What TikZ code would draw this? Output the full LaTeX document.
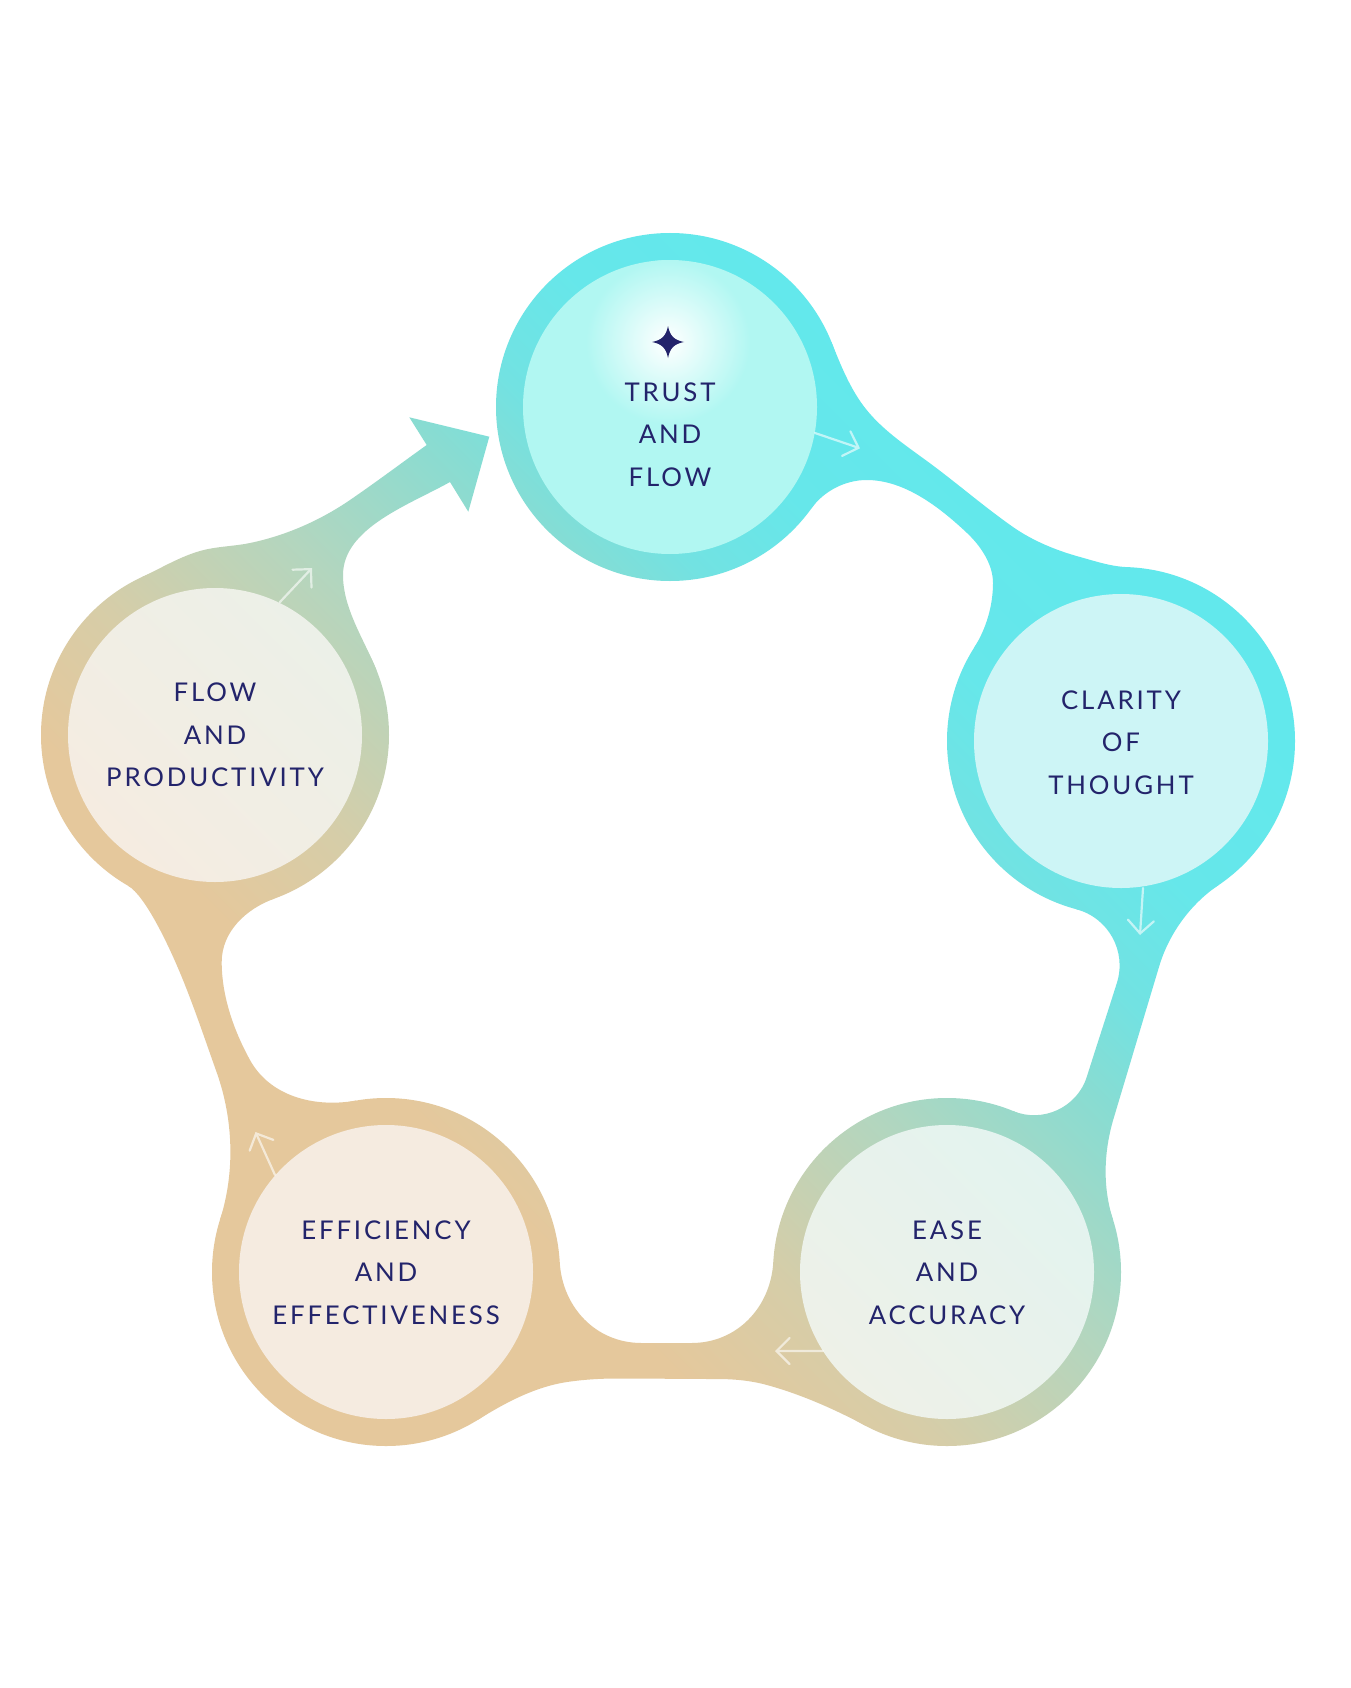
\documentclass[tikz,border=0pt]{standalone}
\usepackage{fontspec}
\usetikzlibrary{arrows.meta,calc}
\newfontfamily\lblfont{Lato}[LetterSpace=11]
\definecolor{g1}{HTML}{62E8EC}
\definecolor{g2}{HTML}{66E7EA}
\definecolor{g3}{HTML}{72E2E2}
\definecolor{g4}{HTML}{88DCD2}
\definecolor{g5}{HTML}{B2D6BF}
\definecolor{g6}{HTML}{D6CDA8}
\definecolor{g7}{HTML}{E5C89C}
\definecolor{navy}{HTML}{23246B}
\definecolor{trustin}{HTML}{B1F7F2}
\definecolor{clarin}{HTML}{CDF5F6}
\definecolor{easeinA}{HTML}{E3F3EF}
\definecolor{easeinB}{HTML}{EEF1E8}
\definecolor{effin}{HTML}{F5EBE0}
\definecolor{flowinA}{HTML}{ECF0E8}
\definecolor{flowinB}{HTML}{F5ECE1}
\pgfdeclarehorizontalshading{loopgrad}{100bp}{color(0bp)=(g1); color(37.3bp)=(g1); color(41.7bp)=(g2); color(44.7bp)=(g3); color(47bp)=(g4); color(51.3bp)=(g5); color(55.9bp)=(g6); color(59.4bp)=(g7); color(100bp)=(g7)}
% Hermite piece: from point #1 leaving at angle #2 (handle #3) to point #4 arriving at angle #5 (handle #6)
\newcommand\hseg[6]{.. controls ($(#1)+(#2:#3)$) and ($(#4)-(#5:#6)$) .. (#4)}
\tikzset{
  loopfill/.style={shading=loopgrad, shading angle=225},
  lbl/.style={align=center, text=navy, inner sep=0pt, font=\lblfont\fontsize{25.8pt}{42.7pt}\selectfont},
  flowarrow/.style={draw=white, line width=2.2pt, line cap=round, -{Straight Barb[length=13pt,width=26pt,line cap=round]}},
}
\begin{document}
\begin{tikzpicture}[x=1pt,y=-1pt]
\path[use as bounding box, fill=white] (0,0) rectangle (1350,1688);
\coordinate (T) at (670,407);
\coordinate (C) at (1121,741);
\coordinate (E) at (947,1272);
\coordinate (F) at (386,1272);
\coordinate (P) at (215,735);
% outer rings
\begin{scope}
  \clip (T) circle[radius=174pt] (C) circle[radius=174pt] (E) circle[radius=174pt] (F) circle[radius=174pt] (P) circle[radius=174pt];
  \shade[loopfill] (-325,-156) rectangle (1675,1844);
\end{scope}
% connecting bands and the big arrow
\begin{scope}
  \clip
    % Trust -> Clarity
    (T) -- (831.3,341.8)
      \hseg{831.3,341.8}{68}{25.6}{866.7,410}{50.9}{25.6}
      \hseg{866.7,410}{50.9}{27.6}{930,463.3}{36.5}{27.6}
      \hseg{930,463.3}{36.5}{34.9}{1013,527}{35}{34.9}
      \hseg{1013,527}{35}{24.5}{1080,557}{15.4}{24.5}
      \hseg{1080,557}{15.4}{16}{1127.1,567.1}{2}{16}
    -- (C) -- (974.2,647.6)
      \hseg{974.2,647.6}{-57.5}{22.4}{993,583}{-90}{22.4}
      \hseg{993,583}{-90}{18.8}{967,533}{-136.7}{18.8}
      \hseg{967,533}{-136.7}{37.8}{866.7,480}{180}{37.8}
      \hseg{866.7,480}{180}{21.5}{811.4,508.4}{125.6}{21.5}
    -- cycle
    % Clarity -> Ease
    (C) -- (1218.6,885)
      \hseg{1218.6,885}{145.9}{34}{1159.2,966.2}{106.7}{34}
      \hseg{1159.2,966.2}{106.7}{52.6}{1113.7,1118.1}{106.7}{52.6}
      \hseg{1113.7,1118.1}{106.7}{34.3}{1112.8,1219.1}{72.3}{34.3}
    -- (E) -- (1013.3,1111.1)
      \hseg{1013.3,1111.1}{22.4}{32}{1086.8,1076.8}{-72.5}{32}
      \hseg{1086.8,1076.8}{-72.5}{32.9}{1116.9,982.8}{-72.5}{32.9}
      \hseg{1116.9,982.8}{-72.5}{33.1}{1076.4,909.3}{-165.2}{33.1}
    -- cycle
    % Ease -> Efficiency
    (E) -- (865.3,1425.6)
      \hseg{865.3,1425.6}{-152}{35.5}{767,1385}{-164.6}{35.5}
      \hseg{767,1385}{-164.6}{16.8}{717,1379}{180}{16.8}
      \hseg{717,1379}{180}{33.3}{617,1378.5}{180}{33.3}
      \hseg{617,1378.5}{180}{16.7}{567,1382}{171.5}{16.7}
      \hseg{567,1382}{171.5}{32.1}{478.2,1419.6}{148}{32.1}
    -- (F) -- (559.7,1262)
      \hseg{559.7,1262}{86.7}{45.5}{641.5,1343}{0}{45.5}
      -- (691.5,1343)
      \hseg{691.5,1343}{0}{45.5}{773.3,1262}{-86.7}{45.5}
    -- cycle
    % Efficiency -> Flow
    (F) -- (220.1,1219.5)
      \hseg{220.1,1219.5}{-72.4}{50}{216.6,1072.1}{-109.6}{50}
      \hseg{216.6,1072.1}{-109.6}{32.7}{183,980}{-112}{32.7}
      \hseg{183,980}{-112}{36.4}{128,885.7}{-150}{20}
    -- (P) -- (274.5,898.5)
      \hseg{274.5,898.5}{160}{30.3}{221.7,962}{90}{30.3}
      \hseg{221.7,962}{90}{34}{250,1060}{61.2}{34}
      \hseg{250,1060}{61.2}{41.7}{355.8,1100.6}{-10}{41.7}
    -- cycle
    % Flow -> big arrow into Trust
    (P) -- (141.5,577.3)
      \hseg{141.5,577.3}{-25}{21.4}{200,551}{-16}{21.4}
      \hseg{200,551}{-16}{16.9}{250,543}{-11.7}{16.9}
      \hseg{250,543}{-11.7}{36.3}{350,500}{-34.4}{36.3}
      \hseg{350,500}{-34.4}{31.5}{426.7,445}{-35.6}{31.5}
      -- (409.3,417.3) -- (489.3,436.7) -- (468.3,511.7) -- (450,482)
      \hseg{450,482}{150.8}{47}{343,575}{90}{47}
      \hseg{343,575}{90}{33.5}{376.3,669.8}{68}{33.5}
    -- cycle;
  \shade[loopfill] (-325,-156) rectangle (1675,1844);
\end{scope}
% inner discs
\fill[trustin] (T) circle[radius=147pt];
\begin{scope}
  \clip (T) circle[radius=147pt];
  \shade[inner color=white, outer color=trustin] (668,342) circle[radius=82pt];
\end{scope}
\fill[clarin] (C) circle[radius=147pt];
\shade[top color=easeinA, bottom color=easeinB, shading angle=-45] (E) circle[radius=147pt];
\fill[effin] (F) circle[radius=147pt];
\shade[top color=flowinA, bottom color=flowinB, shading angle=-45] (P) circle[radius=147pt];
% star
\fill[navy] (668,326) .. controls (670,336) and (674,340) .. (684,342)
  .. controls (674,344) and (670,348) .. (668,358)
  .. controls (666,348) and (662,344) .. (652,342)
  .. controls (662,340) and (666,336) .. (668,326) -- cycle;
% small flow arrows
\begin{scope}[transparency group, opacity=0.6]
  \coordinate (a1s) at (815,433);   \coordinate (a1e) at (860,448.3);
  \coordinate (a2s) at (1143,888);  \coordinate (a2e) at (1140,935);
  \coordinate (a3s) at (823,1351);  \coordinate (a3e) at (775,1351);
  \coordinate (a4s) at (275,1175);  \coordinate (a4e) at (255.5,1132);
  \coordinate (a5s) at (280,602);   \coordinate (a5e) at (312,568);
  \draw[flowarrow] (a1s) -- (a1e);
  \draw[flowarrow] (a2s) -- (a2e);
  \draw[flowarrow] (a3s) -- (a3e);
  \draw[flowarrow] (a4s) -- (a4e);
  \draw[flowarrow] (a5s) -- (a5e);
\end{scope}
% labels
\node[lbl] (tTrust) at (670,434.5) {TRUST\\AND\\FLOW};
\node[lbl] (tClar) at (1121,742.5) {CLARITY\\OF\\THOUGHT};
\node[lbl] (tEase) at (947,1272.5) {EASE\\AND\\ACCURACY};
\node[lbl] (tEff) at (386,1272.5) {EFFICIENCY\\AND\\EFFECTIVENESS};
\node[lbl] (tFlow) at (215,735) {FLOW\\AND\\PRODUCTIVITY};
\end{tikzpicture}
\end{document}
